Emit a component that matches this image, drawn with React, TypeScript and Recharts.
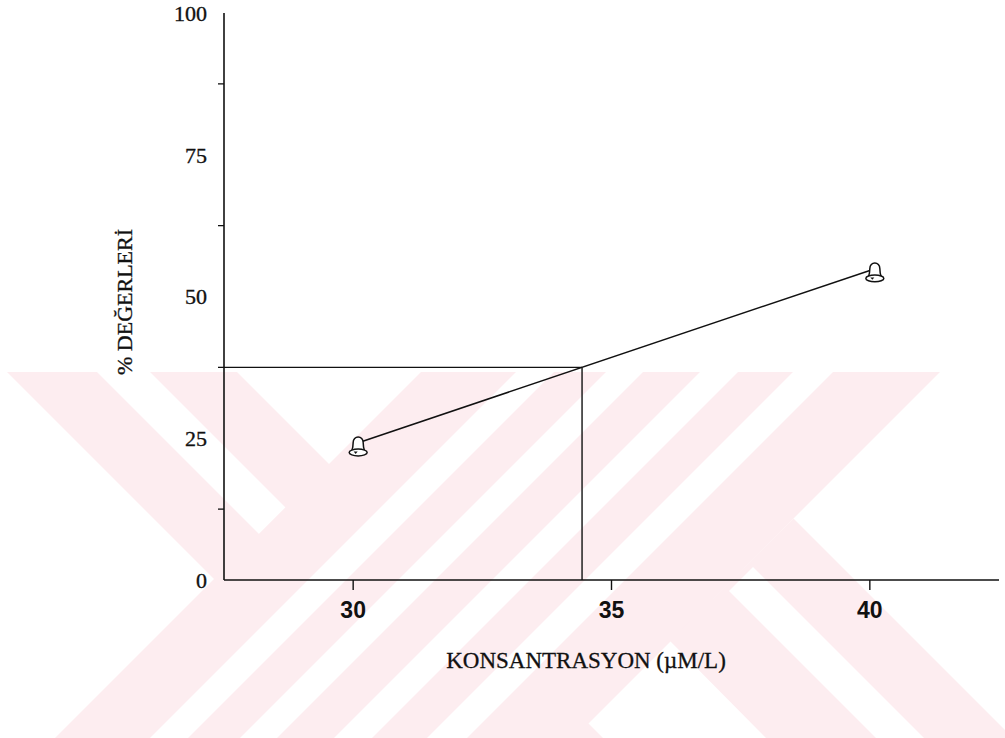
import { Label, Line, LineChart, ReferenceLine, XAxis, YAxis } from "recharts";

const concentrations = [30, 40];
const percentValues = [23.9, 54.6];
const xTicks = [30, 35, 40];
const yTicks = [0, 12.5, 25, 37.5, 50, 62.5, 75, 87.5, 100];
const cutoffPercent = 37.5;

const xTitle = "KONSANTRASYON (µM/L)";
const yTitle = "% DEĞERLERİ";

const data = concentrations.map((k, i) => ({ k, v: percentValues[i] }));

// where the fitted line crosses the cutoff percentage
const slope =
  (percentValues[1] - percentValues[0]) / (concentrations[1] - concentrations[0]);
const cutoffConc = concentrations[0] + (cutoffPercent - percentValues[0]) / slope;

const INK = "#111";
const SERIF = "'Liberation Serif', 'Times New Roman', serif";
const SANS = "'Liberation Sans', Arial, sans-serif";
const PINK = "#fdedf0";

// background stamp: diagonal bands, "\" bands use c = x - y, "/" bands use s = x + y
const TOP = 372;
const BOT = 738;
const back = (c1: number, c2: number, y0 = TOP, y1 = BOT) =>
  `${c1 + y0},${y0} ${c2 + y0},${y0} ${c2 + y1},${y1} ${c1 + y1},${y1}`;
const fwd = (s1: number, s2: number, y0 = TOP, y1 = BOT) =>
  `${s1 - y0},${y0} ${s2 - y0},${y0} ${s2 - y1},${y1} ${s1 - y1},${y1}`;

function Stamp() {
  return (
    <svg
      width={1005}
      height={738}
      style={{ position: "absolute", left: 0, top: 0 }}
    >
      <polygon points={back(-365, -135)} fill={PINK} />
      <polygon points="97,372 150,372 285.5,507.5 259,534" fill="#fff" />
      <polygon points={fwd(793, 1312)} fill={PINK} />
      {[
        [888, 926],
        [978, 1015],
        [1072, 1110],
        [1165, 1205],
      ].map(([a, b]) => (
        <polygon key={a} points={fwd(a, b)} fill="#fff" />
      ))}
      <polygon points="670,641 793.5,518.5 1013,738 766,738" fill={PINK} />
      <polygon points="729,591 753,567 924,738 876,738" fill="#fff" />
    </svg>
  );
}

function YTick(props: any) {
  const { x, y, payload } = props;
  if (payload.value % 25 === 0) {
    return (
      <text
        x={x - 17}
        y={y}
        dy="0.36em"
        textAnchor="end"
        fontSize={22}
        fontFamily={SERIF}
        fill={INK}
        stroke={INK}
        strokeWidth={0.35}
      >
        {payload.value}
      </text>
    );
  }
  return <line x1={x - 6} x2={x} y1={y} y2={y} stroke={INK} strokeWidth={1.3} />;
}

function Bell(props: any) {
  const { cx, cy, index } = props;
  return (
    <g key={index} transform={`translate(${cx + 5}, ${cy + 2})`}>
      <path
        d="M -6.5 5 C -5.5 2, -5 -1, -5 -4 A 5 5.5 0 0 1 5 -4 C 5 -1, 5.5 2, 6.5 5"
        fill="#fff"
        stroke={INK}
        strokeWidth={1.5}
      />
      <ellipse cx={0} cy={6} rx={9} ry={3.4} fill="#fff" stroke={INK} strokeWidth={1.5} />
      <path d="M -4.5 5 L -0.5 5 L -2.5 7.4 Z" fill={INK} />
    </g>
  );
}

function XTitle(props: any) {
  const vb = props.viewBox;
  return (
    <text
      x={vb.x + 362}
      y={vb.y + 88}
      textAnchor="middle"
      fontSize={23}
      fontFamily={SERIF}
      fill={INK}
      stroke={INK}
      strokeWidth={0.3}
    >
      {xTitle}
    </text>
  );
}

function YTitle(props: any) {
  const vb = props.viewBox;
  const x = vb.x - 40;
  const y = vb.y + 289;
  return (
    <text
      x={x}
      y={y}
      transform={`rotate(-90, ${x}, ${y})`}
      textAnchor="middle"
      dominantBaseline="central"
      fontSize={22}
      fontFamily={SERIF}
      fill={INK}
      stroke={INK}
      strokeWidth={0.3}
    >
      {yTitle}
    </text>
  );
}

export default function App() {
  return (
    <div style={{ position: "absolute", left: 0, top: 0, width: 1005, height: 738, background: "#fff" }}>
      <Stamp />
      <div style={{ position: "absolute", left: 0, top: 0 }}>
        <LineChart
          width={1005}
          height={738}
          data={data}
          margin={{ top: 13, right: 6, bottom: 118, left: 164 }}
        >
          <XAxis
            dataKey="k"
            type="number"
            domain={[27.5, 42.5]}
            ticks={xTicks}
            interval={0}
            height={40}
            tickSize={10}
            tickMargin={12}
            axisLine={{ stroke: INK, strokeWidth: 1.6 }}
            tickLine={{ stroke: INK, strokeWidth: 1.4 }}
            tick={{ fontSize: 23, fontWeight: "bold", fontFamily: SANS, fill: INK }}
          >
            <Label content={XTitle} />
          </XAxis>
          <YAxis
            type="number"
            domain={[0, 100]}
            ticks={yTicks}
            interval={0}
            width={60}
            tickSize={0}
            tickMargin={0}
            tickLine={false}
            axisLine={{ stroke: INK, strokeWidth: 1.6 }}
            tick={YTick}
          >
            <Label content={YTitle} />
          </YAxis>
          <ReferenceLine
            segment={[
              { x: 27.5, y: cutoffPercent },
              { x: cutoffConc, y: cutoffPercent },
            ]}
            stroke={INK}
            strokeWidth={1.4}
          />
          <ReferenceLine
            segment={[
              { x: cutoffConc, y: 0 },
              { x: cutoffConc, y: cutoffPercent },
            ]}
            stroke={INK}
            strokeWidth={1.4}
          />
          <Line
            dataKey="v"
            type="linear"
            stroke={INK}
            strokeWidth={1.5}
            dot={Bell}
            activeDot={false}
            isAnimationActive={false}
          />
        </LineChart>
      </div>
    </div>
  );
}
